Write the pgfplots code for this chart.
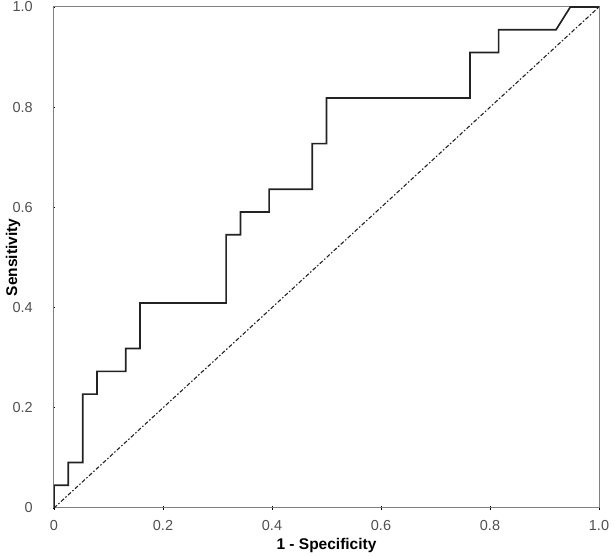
\documentclass[border=0pt]{standalone}
\usepackage{fontspec}
\setmainfont{Liberation Sans}
\usepackage{pgfplots}
\pgfplotsset{compat=1.18}
\definecolor{axgray}{RGB}{128,128,128}
\definecolor{lblgray}{RGB}{80,80,80}
\definecolor{curve}{RGB}{35,35,35}
\begin{document}
\begin{tikzpicture}
\path[use as bounding box] (-54pt,-48pt) rectangle (561pt,508pt);
\begin{axis}[
  scale only axis,
  width=545pt, height=501pt,
  at={(0,0)}, anchor=south west,
  xmin=0, xmax=1, ymin=0, ymax=1,
  xtick={0,0.2,0.4,0.6,0.8,1.0},
  ytick={0,0.2,0.4,0.6,0.8,1.0},
  xticklabels={0,0.2,0.4,0.6,0.8,1.0},
  yticklabels={0,0.2,0.4,0.6,0.8,1.0},
  xtick pos=left, ytick pos=left,
  tick align=center,
  major tick length=3pt,
  tick style={black, line width=0.6pt},
  axis line style={axgray, line width=1pt},
  every tick label/.append style={font=\fontsize{14.5}{17}\selectfont, text=lblgray, inner sep=0pt},
  xticklabel shift=11pt,
  yticklabel shift=19.5pt,
  xlabel={\textbf{1 - Specificity}},
  ylabel={\textbf{Sensitivity}},
  label style={font=\fontsize{15.5}{18}\selectfont, text=black},
  xlabel style={at={([yshift=-37.5pt]axis description cs:0.5,0)}, anchor=center},
  ylabel style={at={([xshift=-41pt]axis description cs:0,0.5)}, anchor=center},
]
\addplot[curve, line width=1.7pt, line join=miter] coordinates {
(0,0) (0,0.0455) (0.0263,0.0455) (0.0263,0.0909) (0.0526,0.0909) (0.0526,0.2273)
(0.0789,0.2273) (0.0789,0.2727) (0.1316,0.2727) (0.1316,0.3182) (0.1579,0.3182)
(0.1579,0.4091) (0.3158,0.4091) (0.3158,0.5455) (0.3421,0.5455) (0.3421,0.5909)
(0.3947,0.5909) (0.3947,0.6364) (0.4737,0.6364) (0.4737,0.7273) (0.5,0.7273)
(0.5,0.8182) (0.7632,0.8182) (0.7632,0.9091) (0.8158,0.9091) (0.8158,0.9545)
(0.9211,0.9545) (0.9474,1) (1,1)
};
\addplot[curve, line width=1.1pt, dash pattern=on 4pt off 2pt on 1.5pt off 2pt] coordinates {(0,0) (1,1)};
\end{axis}
\end{tikzpicture}
\end{document}
